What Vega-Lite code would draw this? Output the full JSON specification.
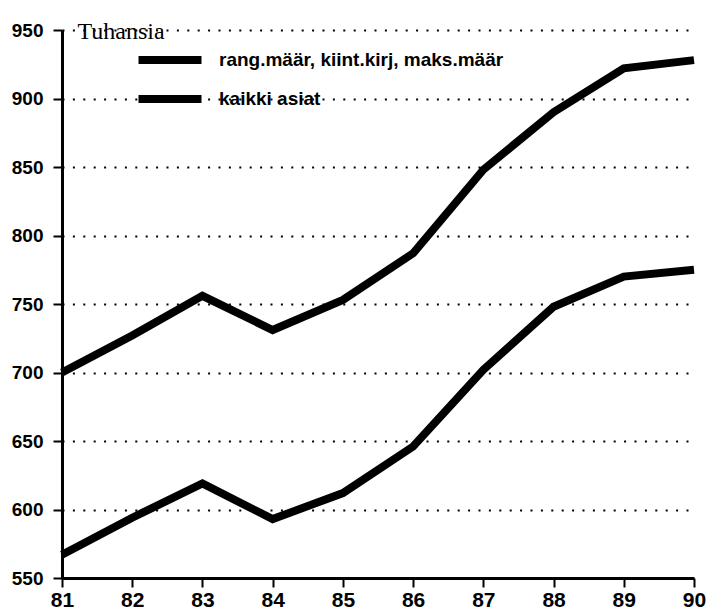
{
  "$schema": "https://vega.github.io/schema/vega-lite/v6.json",
  "width": 632,
  "height": 548,
  "autosize": {"type": "none"},
  "padding": {"left": 62, "top": 30, "right": 15, "bottom": 34},
  "background": "white",
  "data": {
    "values": [
      {"vuosi": 81, "sarja": "kaikki asiat", "arvo": 700},
      {"vuosi": 82, "sarja": "kaikki asiat", "arvo": 727},
      {"vuosi": 83, "sarja": "kaikki asiat", "arvo": 756},
      {"vuosi": 84, "sarja": "kaikki asiat", "arvo": 731},
      {"vuosi": 85, "sarja": "kaikki asiat", "arvo": 753},
      {"vuosi": 86, "sarja": "kaikki asiat", "arvo": 787},
      {"vuosi": 87, "sarja": "kaikki asiat", "arvo": 848},
      {"vuosi": 88, "sarja": "kaikki asiat", "arvo": 890},
      {"vuosi": 89, "sarja": "kaikki asiat", "arvo": 922},
      {"vuosi": 90, "sarja": "kaikki asiat", "arvo": 928},
      {"vuosi": 81, "sarja": "rang.määr, kiint.kirj, maks.määr", "arvo": 567},
      {"vuosi": 82, "sarja": "rang.määr, kiint.kirj, maks.määr", "arvo": 594},
      {"vuosi": 83, "sarja": "rang.määr, kiint.kirj, maks.määr", "arvo": 619},
      {"vuosi": 84, "sarja": "rang.määr, kiint.kirj, maks.määr", "arvo": 593},
      {"vuosi": 85, "sarja": "rang.määr, kiint.kirj, maks.määr", "arvo": 612},
      {"vuosi": 86, "sarja": "rang.määr, kiint.kirj, maks.määr", "arvo": 646},
      {"vuosi": 87, "sarja": "rang.määr, kiint.kirj, maks.määr", "arvo": 702},
      {"vuosi": 88, "sarja": "rang.määr, kiint.kirj, maks.määr", "arvo": 748},
      {"vuosi": 89, "sarja": "rang.määr, kiint.kirj, maks.määr", "arvo": 770},
      {"vuosi": 90, "sarja": "rang.määr, kiint.kirj, maks.määr", "arvo": 775}
    ]
  },
  "mark": {"type": "line", "strokeWidth": 8, "strokeJoin": "miter", "strokeCap": "butt"},
  "encoding": {
    "x": {
      "field": "vuosi",
      "type": "quantitative",
      "scale": {"domain": [81, 90], "nice": false, "zero": false},
      "axis": {
        "values": [81, 82, 83, 84, 85, 86, 87, 88, 89, 90],
        "title": null,
        "grid": false,
        "domainColor": "black",
        "domainWidth": 3,
        "tickColor": "black",
        "tickWidth": 2,
        "tickSize": 9,
        "labelFont": "Liberation Sans",
        "labelFontSize": 21,
        "labelFontWeight": "bold",
        "labelColor": "black",
        "labelPadding": 2,
        "labelFlush": false
      }
    },
    "y": {
      "field": "arvo",
      "type": "quantitative",
      "scale": {"domain": [550, 950], "nice": false, "zero": false},
      "axis": {
        "values": [550, 600, 650, 700, 750, 800, 850, 900, 950],
        "title": "Tuhansia",
        "titleAngle": 0,
        "titleX": 15,
        "titleY": 8,
        "titleAlign": "left",
        "titleBaseline": "alphabetic",
        "titleFont": "Liberation Serif",
        "titleFontSize": 24,
        "titleFontWeight": "normal",
        "titleColor": "black",
        "grid": true,
        "gridColor": "black",
        "gridDash": [2, 8.4],
        "gridWidth": 2,
        "gridOpacity": 1,
        "domainColor": "black",
        "domainWidth": 3,
        "tickColor": "black",
        "tickWidth": 2,
        "tickSize": 9,
        "labelFont": "Liberation Sans",
        "labelFontSize": 19,
        "labelFontWeight": "bold",
        "labelColor": "black",
        "labelPadding": 10,
        "labelFlush": false
      }
    },
    "color": {
      "field": "sarja",
      "type": "nominal",
      "scale": {
        "domain": ["rang.määr, kiint.kirj, maks.määr", "kaikki asiat"],
        "range": ["black", "black"]
      },
      "legend": {
        "orient": "none",
        "legendX": 88,
        "legendY": 10,
        "title": null,
        "symbolType": "M-2,0H2",
        "symbolSize": 992,
        "symbolStrokeWidth": 8,
        "symbolStrokeColor": "black",
        "symbolFillColor": "transparent",
        "labelFont": "Liberation Sans",
        "labelFontSize": 19,
        "labelFontWeight": "bold",
        "labelColor": "black",
        "labelOffset": 29,
        "rowPadding": 3,
        "labelLimit": 400
      }
    }
  },
  "config": {"view": {"stroke": null}}
}
